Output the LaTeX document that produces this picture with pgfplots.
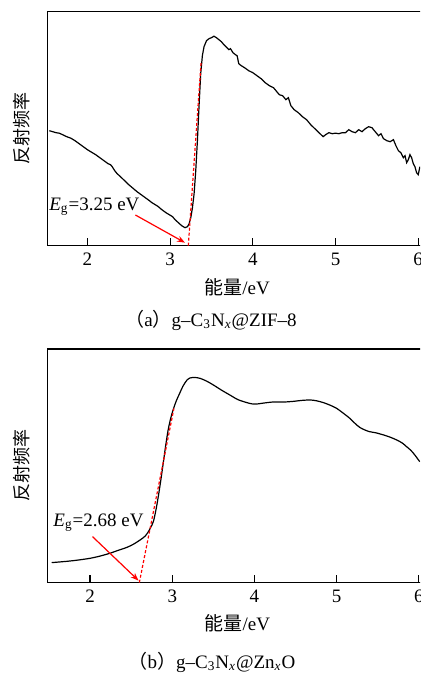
\documentclass[border=0pt]{standalone}
\usepackage{fontspec}
\setmainfont{Liberation Serif}
\newfontfamily\cjk{Noto Sans CJK SC}
\usepackage{pgfplots}
\pgfplotsset{compat=1.18}
\usetikzlibrary{arrows.meta}

\pgfplotstableread{
x y
1.54 115
1.58 114
1.62 113
1.66 112.5
1.70 111
1.75 109
1.80 107.5
1.85 105
1.90 102
1.95 99
2.00 96
2.05 93.5
2.10 91
2.15 88
2.20 85
2.25 82
2.28 81
2.30 79
2.33 75
2.36 72
2.40 69
2.45 65
2.50 61
2.55 57.5
2.60 54
2.65 51
2.70 48
2.75 45
2.78 43
2.80 42
2.85 39.5
2.90 36
2.95 33
3.00 30.5
3.03 29
3.06 26
3.10 23
3.14 20
3.18 18
3.21 19
3.23 22
3.25 28
3.27 38
3.29 52
3.31 75
3.33 105
3.35 140
3.37 172
3.39 190
3.41 199
3.44 205
3.47 207
3.50 208
3.53 209.5
3.56 208
3.59 206
3.62 204
3.65 201
3.68 198.5
3.71 196
3.73 197
3.76 193
3.79 191
3.81 190
3.83 182
3.86 180
3.90 178
3.95 175
4.00 173
4.05 170
4.10 167
4.15 163
4.20 160
4.25 158
4.28 155
4.32 151
4.36 150
4.40 146
4.43 148
4.46 140
4.50 136
4.55 133
4.60 129
4.65 126
4.70 121
4.75 117
4.80 113
4.85 109
4.88 111
4.92 113
4.96 112
5.00 112.5
5.04 112
5.08 113
5.12 113
5.16 116
5.20 114
5.24 113
5.28 116
5.32 114
5.36 117
5.40 119
5.44 118
5.48 114
5.52 110
5.55 112
5.58 107
5.62 105
5.66 104
5.70 106
5.73 100
5.76 95
5.79 93
5.82 88
5.84 90
5.86 83
5.88 86
5.90 91
5.92 88
5.94 82
5.96 79
5.98 73
6.00 71
6.02 79
}\dataA

\pgfplotstableread{
x y
1.534 20
1.72 21.3
1.85 22.5
2.00 24.3
2.12 26.5
2.24 29.3
2.35 32.5
2.45 35.3
2.53 38.5
2.61 42.7
2.67 46.5
2.71 51
2.74 55.5
2.77 61
2.80 72
2.83 86
2.86 102
2.89 119.3
2.92 137
2.95 152.7
2.98 164
3.01 172.7
3.05 182
3.09 189.3
3.13 196.5
3.18 202.7
3.22 204.8
3.26 205.3
3.30 205
3.34 204.3
3.42 201.5
3.50 197.7
3.60 192.5
3.70 187.7
3.80 183
3.91 180
3.97 178.8
4.03 178.7
4.13 179.8
4.23 180.7
4.35 180.6
4.47 181.3
4.58 182.3
4.68 182.7
4.76 181.8
4.84 180
4.92 177.5
5.00 174.3
5.08 169.5
5.16 164.3
5.22 159.5
5.28 155.3
5.34 152.8
5.40 151
5.48 149.8
5.57 147.7
5.65 145.5
5.73 142.7
5.80 139.5
5.85 136
5.90 132.5
5.95 127.7
6.01 121
}\dataB

\pgfplotsset{
  panel/.style={
    scale only axis,
    width=189.4pt, height=117pt,
    xmax=6.1,
    ymin=0, ymax=234,
    ytick=\empty,
    xtick={2,3,4,5,6},
    tick align=inside,
    xtick pos=bottom,
    major tick length=3.7pt,
    tick style={black, line width=0.6pt},
    axis line style={line width=0.6pt},
    ticklabel style={font=\fontsize{9.5}{11}\selectfont},
    /pgf/number format/assume math mode=true,
    xlabel={{\cjk 能量}/eV},
    ylabel={\cjk 反射频率},
    every axis x label/.style={at={(axis description cs:0.5,-0.176)}, anchor=center, font=\fontsize{9.5}{11}\selectfont},
    every axis y label/.style={at={(axis description cs:-0.068,0.5)}, rotate=90, anchor=center, font=\fontsize{9}{11}\selectfont},
  }
}

\begin{document}
\begin{tikzpicture}
\useasboundingbox (0,0) rectangle (210pt,336.5pt);
\clip (0,0) rectangle (210pt,336.5pt);

% Panel (a)
\begin{axis}[panel, at={(23.85pt,213.65pt)}, anchor=south west, xmin=1.52]
\addplot[black, line width=0.6pt] table[x=x,y=y] {\dataA};
\addplot[red, line width=0.6pt, dash pattern=on 1.5pt off 1pt] coordinates {(3.22,0) (3.375,184)};
\addplot[red, line width=0.6pt, -{Stealth[length=4pt,width=3pt]}] coordinates {(2.58,30.7) (3.18,3)};
\node[anchor=west, inner sep=0pt, font=\fontsize{9.5}{11}\selectfont] at (axis cs:1.535,39) {\textit{E}\textsubscript{g}=3.25 eV};
\end{axis}

% Panel (b)
\begin{axis}[panel, at={(23.85pt,45.2pt)}, anchor=south west, xmin=1.485, ymax=233.7, width=189.7pt, height=116.8pt]
\addplot[black, line width=0.6pt, smooth] table[x=x,y=y] {\dataB};
\addplot[red, line width=0.6pt, dash pattern=on 1.5pt off 1pt] coordinates {(2.6,0) (3.02,174.3)};
\addplot[red, line width=0.6pt, -{Stealth[length=4pt,width=3pt]}] coordinates {(2.03,46) (2.59,2)};
\node[anchor=west, inner sep=0pt, font=\fontsize{9.5}{11}\selectfont] at (axis cs:1.55,60) {\textit{E}\textsubscript{g}=2.68 eV};
\end{axis}

\node[font=\fontsize{9.5}{11}\selectfont] at (105.5pt,176.5pt) {{\cjk （}a{\cjk ）}g–C\textsubscript{3}N\textsubscript{\textit{x}}@ZIF–8};
\node[font=\fontsize{9.5}{11}\selectfont] at (106pt,5.5pt) {{\cjk （}b{\cjk ）}g–C\textsubscript{3}N\textsubscript{\textit{x}}@Zn\textsubscript{\textit{x}}O};
\end{tikzpicture}
\end{document}
